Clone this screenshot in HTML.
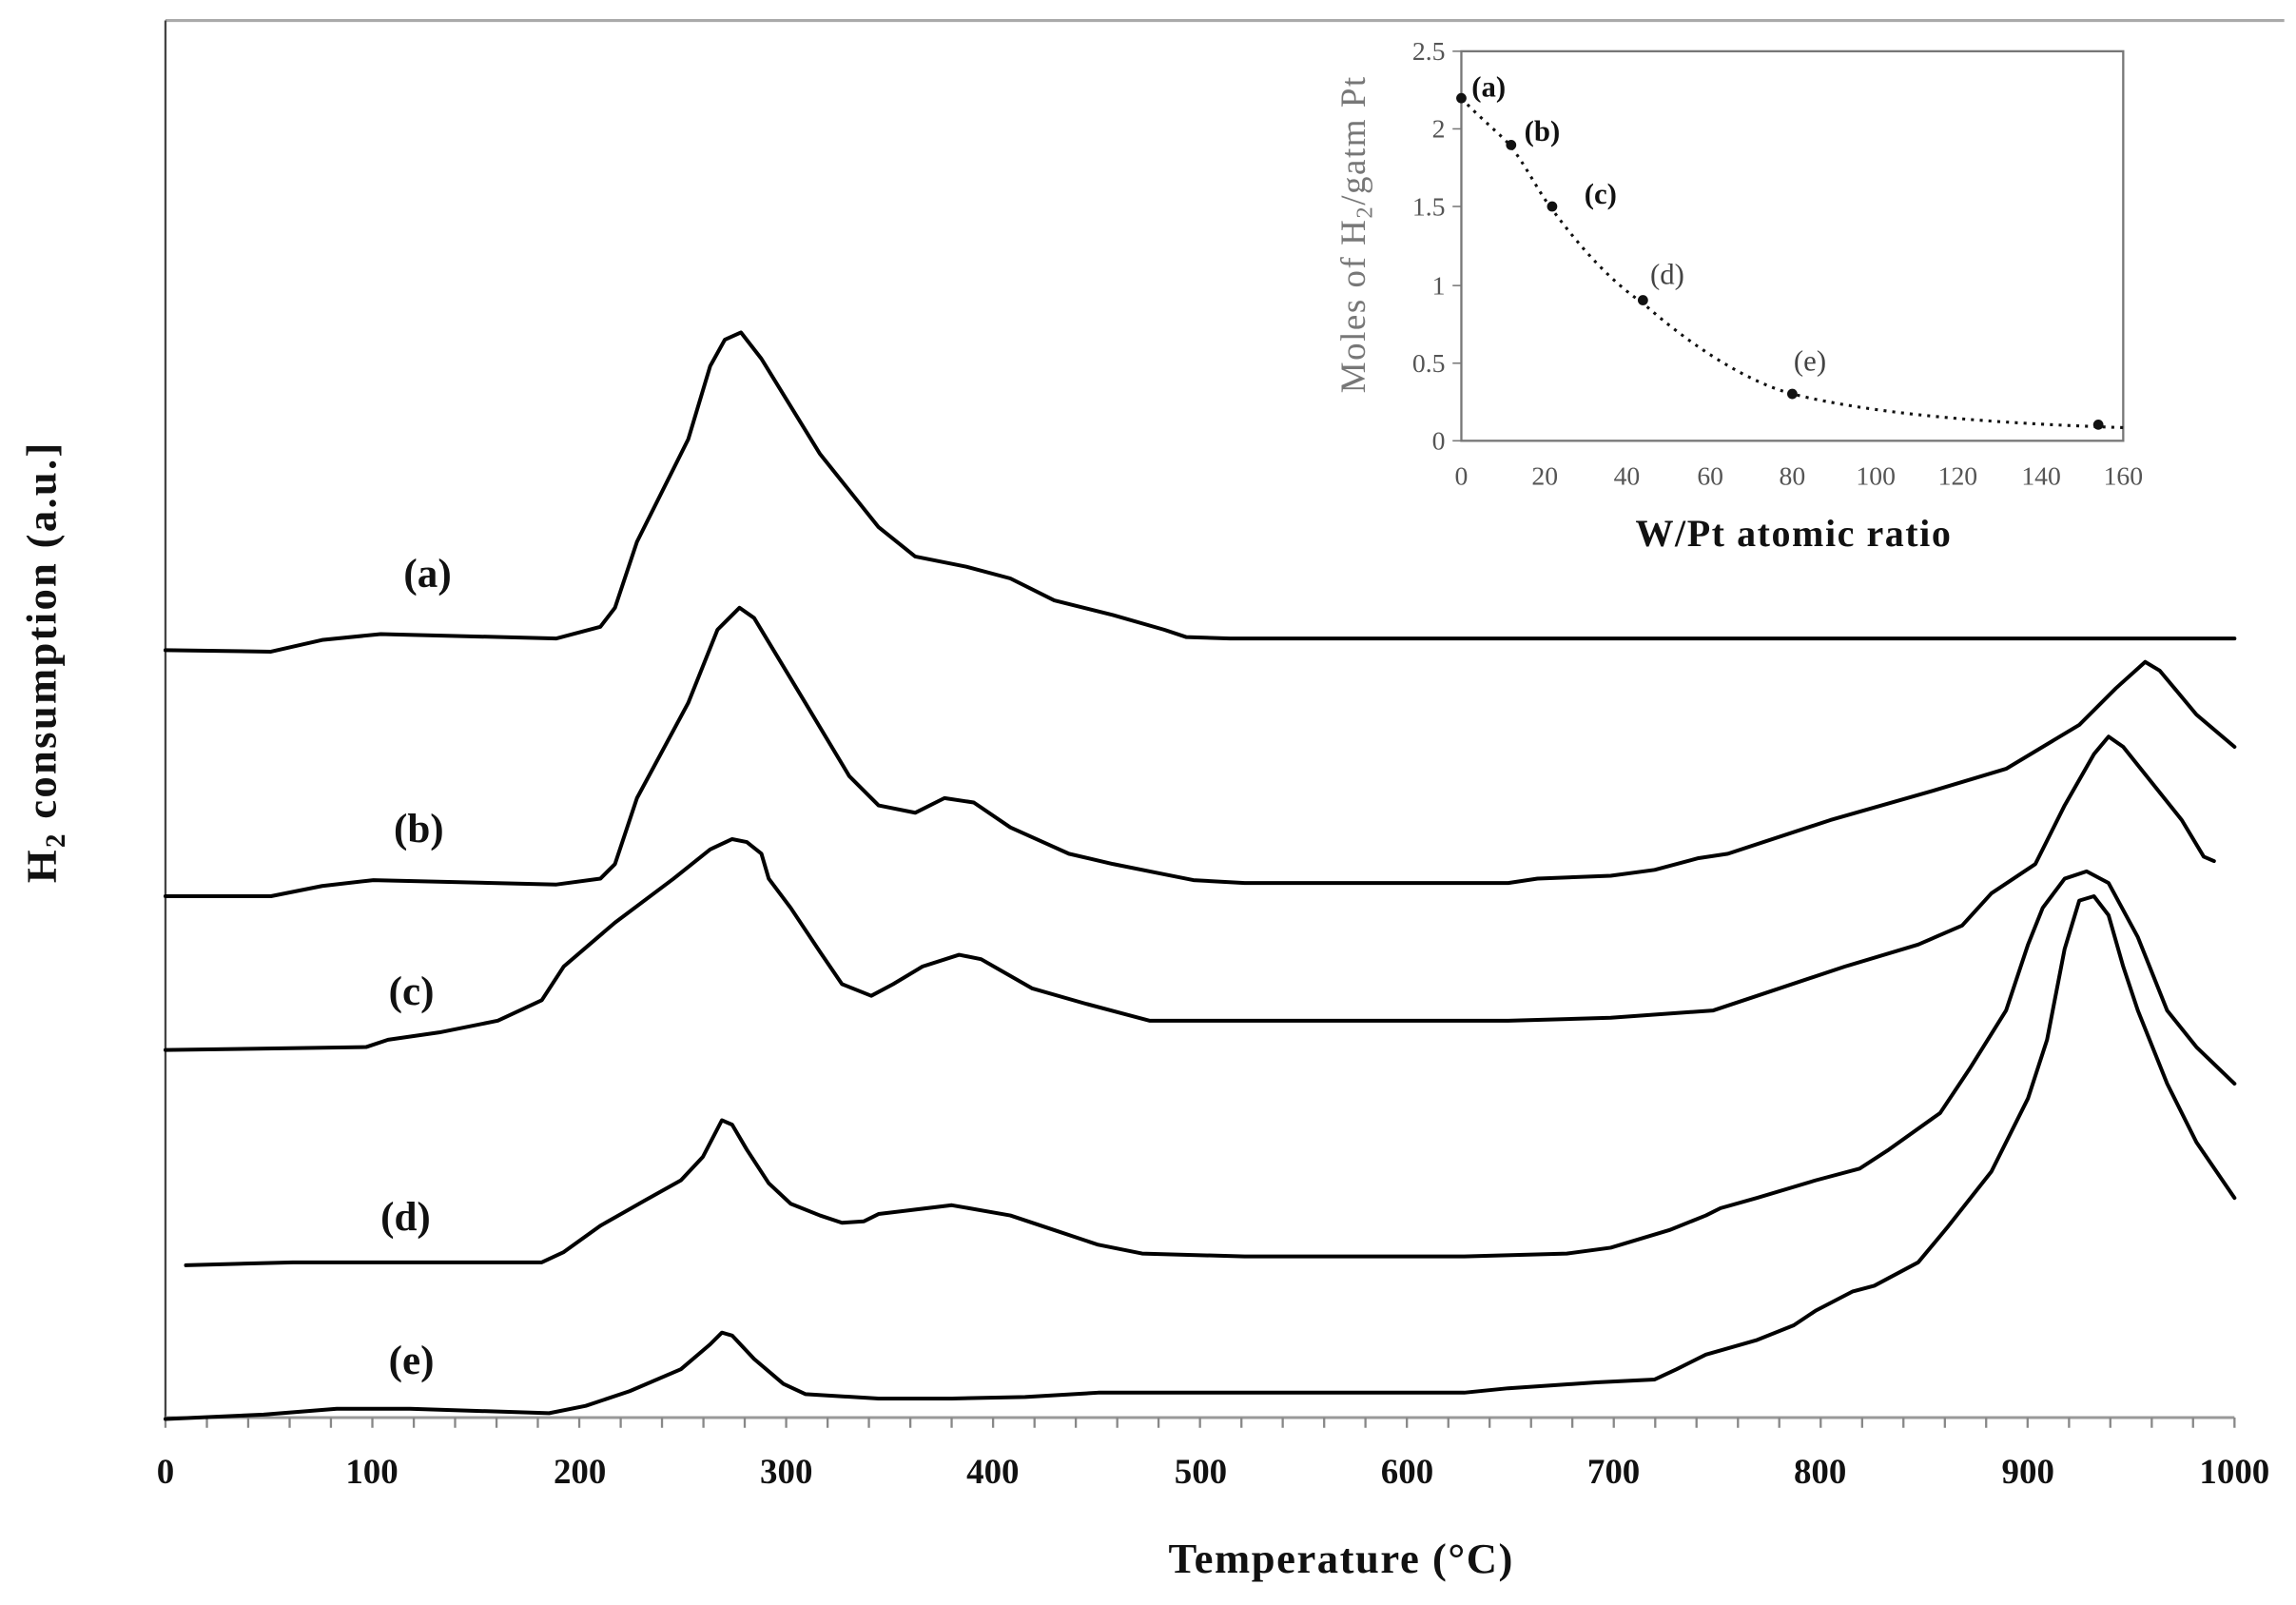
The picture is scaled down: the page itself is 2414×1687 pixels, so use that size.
<!DOCTYPE html>
<html><head><meta charset="utf-8"><style>
html,body{margin:0;padding:0;background:#fff;}
svg{display:block;}
text{font-family:"Liberation Serif",serif;}
</style></head><body>
<svg width="2414" height="1687" viewBox="0 0 1568 1096" preserveAspectRatio="none" xmlns="http://www.w3.org/2000/svg">
<rect width="1568" height="1096" fill="#fff"/>
<line x1="113" y1="14" x2="1560" y2="14" stroke="#aaa" stroke-width="2"/>
<line x1="113" y1="14" x2="113" y2="968" stroke="#444" stroke-width="1.5"/>
<line x1="113" y1="968" x2="1526" y2="968" stroke="#999" stroke-width="2"/>
<g stroke="#888" stroke-width="1.5">
<line x1="113.0" y1="968" x2="113.0" y2="975"/><line x1="141.3" y1="968" x2="141.3" y2="975"/><line x1="169.5" y1="968" x2="169.5" y2="975"/><line x1="197.8" y1="968" x2="197.8" y2="975"/><line x1="226.0" y1="968" x2="226.0" y2="975"/><line x1="254.3" y1="968" x2="254.3" y2="975"/><line x1="282.6" y1="968" x2="282.6" y2="975"/><line x1="310.8" y1="968" x2="310.8" y2="975"/><line x1="339.1" y1="968" x2="339.1" y2="975"/><line x1="367.3" y1="968" x2="367.3" y2="975"/><line x1="395.6" y1="968" x2="395.6" y2="975"/><line x1="423.9" y1="968" x2="423.9" y2="975"/><line x1="452.1" y1="968" x2="452.1" y2="975"/><line x1="480.4" y1="968" x2="480.4" y2="975"/><line x1="508.6" y1="968" x2="508.6" y2="975"/><line x1="536.9" y1="968" x2="536.9" y2="975"/><line x1="565.2" y1="968" x2="565.2" y2="975"/><line x1="593.4" y1="968" x2="593.4" y2="975"/><line x1="621.7" y1="968" x2="621.7" y2="975"/><line x1="649.9" y1="968" x2="649.9" y2="975"/><line x1="678.2" y1="968" x2="678.2" y2="975"/><line x1="706.5" y1="968" x2="706.5" y2="975"/><line x1="734.7" y1="968" x2="734.7" y2="975"/><line x1="763.0" y1="968" x2="763.0" y2="975"/><line x1="791.2" y1="968" x2="791.2" y2="975"/><line x1="819.5" y1="968" x2="819.5" y2="975"/><line x1="847.8" y1="968" x2="847.8" y2="975"/><line x1="876.0" y1="968" x2="876.0" y2="975"/><line x1="904.3" y1="968" x2="904.3" y2="975"/><line x1="932.5" y1="968" x2="932.5" y2="975"/><line x1="960.8" y1="968" x2="960.8" y2="975"/><line x1="989.1" y1="968" x2="989.1" y2="975"/><line x1="1017.3" y1="968" x2="1017.3" y2="975"/><line x1="1045.6" y1="968" x2="1045.6" y2="975"/><line x1="1073.8" y1="968" x2="1073.8" y2="975"/><line x1="1102.1" y1="968" x2="1102.1" y2="975"/><line x1="1130.4" y1="968" x2="1130.4" y2="975"/><line x1="1158.6" y1="968" x2="1158.6" y2="975"/><line x1="1186.9" y1="968" x2="1186.9" y2="975"/><line x1="1215.1" y1="968" x2="1215.1" y2="975"/><line x1="1243.4" y1="968" x2="1243.4" y2="975"/><line x1="1271.7" y1="968" x2="1271.7" y2="975"/><line x1="1299.9" y1="968" x2="1299.9" y2="975"/><line x1="1328.2" y1="968" x2="1328.2" y2="975"/><line x1="1356.4" y1="968" x2="1356.4" y2="975"/><line x1="1384.7" y1="968" x2="1384.7" y2="975"/><line x1="1413.0" y1="968" x2="1413.0" y2="975"/><line x1="1441.2" y1="968" x2="1441.2" y2="975"/><line x1="1469.5" y1="968" x2="1469.5" y2="975"/><line x1="1497.7" y1="968" x2="1497.7" y2="975"/><line x1="1526.0" y1="968" x2="1526.0" y2="975"/>
</g>
<g font-size="24" font-weight="bold" text-anchor="middle" fill="#111">
<text x="113" y="1013">0</text><text x="254" y="1013">100</text><text x="396" y="1013">200</text><text x="537" y="1013">300</text><text x="678" y="1013">400</text><text x="820" y="1013">500</text><text x="961" y="1013">600</text><text x="1102" y="1013">700</text><text x="1243" y="1013">800</text><text x="1385" y="1013">900</text><text x="1526" y="1013">1000</text>
<text x="916" y="1074" font-size="29" letter-spacing="1">Temperature (°C)</text>
<text transform="translate(38,452) rotate(-90)" font-size="29" letter-spacing="1.5">H<tspan font-size="19" dy="6">2</tspan><tspan dy="-6"> consumption (a.u.]</tspan></text>
</g>
<g font-size="28" font-weight="bold" text-anchor="middle" fill="#111">
<text x="292" y="401">(a)</text><text x="286" y="575">(b)</text><text x="281" y="686">(c)</text><text x="277" y="840">(d)</text><text x="281" y="938">(e)</text>
</g>
<g fill="none" stroke="#000" stroke-width="2.6" stroke-linejoin="round" stroke-linecap="round">
<polyline points="113,444 185,445 220,437 260,433 380,436 410,428 420,415 435,370 470,300 485,250 495,232 506,227 520,245 560,310 600,360 625,380 660,387 690,395 720,410 760,420 795,430 810,435 840,436 1526,436"/>
<polyline points="113,612 185,612 220,605 255,601 380,604 410,600 420,590 435,545 470,480 490,430 505,415 515,422 550,480 580,530 600,550 625,555 645,545 665,548 690,565 730,583 760,590 795,597 815,601 850,603 1030,603 1050,600 1100,598 1130,594 1160,586 1180,583 1250,560 1320,540 1370,525 1420,495 1445,470 1465,452 1475,458 1500,488 1526,510"/>
<polyline points="113,717 250,715 265,710 300,705 340,697 370,683 385,660 420,630 460,600 485,580 500,573 510,575 520,583 525,600 540,620 560,650 575,672 595,680 610,672 630,660 655,652 670,655 705,675 740,685 770,693 785,697 800,697 1030,697 1100,695 1170,690 1200,680 1260,660 1310,645 1340,632 1360,610 1375,600 1390,590 1410,550 1430,515 1440,503 1450,510 1470,535 1490,560 1505,585 1512,588"/>
<polyline points="127,864 200,862 370,862 385,855 410,837 440,820 465,806 480,790 493,765 500,768 510,785 525,808 540,822 560,830 575,835 590,834 600,829 625,826 650,823 690,830 720,840 750,850 780,856 850,858 1000,858 1070,856 1100,852 1140,840 1165,830 1175,825 1200,818 1240,806 1270,798 1290,785 1325,760 1345,730 1370,690 1385,645 1395,620 1410,600 1425,595 1440,603 1460,640 1480,690 1500,715 1526,740"/>
<polyline points="113,969 180,966 230,962 280,962 375,965 400,960 430,950 465,935 485,918 493,910 500,912 515,928 535,945 550,952 600,955 650,955 700,954 750,951 1000,951 1030,948 1060,946 1090,944 1130,942 1145,935 1165,925 1200,915 1225,905 1240,895 1265,882 1280,878 1310,862 1330,838 1360,800 1385,750 1398,710 1410,648 1420,615 1430,612 1440,625 1450,660 1460,690 1480,740 1500,780 1526,818"/>
</g>
<!-- inset -->
<rect x="998" y="35" width="452" height="266" fill="none" stroke="#777" stroke-width="1.5"/>
<g stroke="#777" stroke-width="1">
<line x1="992" y1="35" x2="998" y2="35"/><line x1="992" y1="88" x2="998" y2="88"/><line x1="992" y1="141" x2="998" y2="141"/><line x1="992" y1="195" x2="998" y2="195"/><line x1="992" y1="248" x2="998" y2="248"/><line x1="992" y1="301" x2="998" y2="301"/>
</g>
<g font-size="18" fill="#555" text-anchor="end">
<text x="987" y="41">2.5</text><text x="987" y="94">2</text><text x="987" y="147">1.5</text><text x="987" y="201">1</text><text x="987" y="254">0.5</text><text x="987" y="307">0</text>
</g>
<g font-size="18" fill="#555" text-anchor="middle">
<text x="998" y="331">0</text><text x="1055" y="331">20</text><text x="1111" y="331">40</text><text x="1168" y="331">60</text><text x="1224" y="331">80</text><text x="1281" y="331">100</text><text x="1337" y="331">120</text><text x="1394" y="331">140</text><text x="1450" y="331">160</text>
</g>
<text x="1225" y="373" font-size="26" font-weight="bold" text-anchor="middle" fill="#111" letter-spacing="1">W/Pt atomic ratio</text>
<text transform="translate(932,160) rotate(-90)" font-size="24" text-anchor="middle" fill="#777" letter-spacing="1">Moles of H<tspan font-size="16" dy="5">2</tspan><tspan dy="-5">/gatm Pt</tspan></text>
<path d="M998,67 C1010,80 1025,92 1032,100 C1045,118 1050,130 1060,143 C1080,170 1100,192 1122,207 C1150,232 1190,260 1224,269 C1280,283 1360,289 1450,292" fill="none" stroke="#111" stroke-width="2" stroke-dasharray="2,4"/>
<g fill="#111">
<circle cx="998" cy="67" r="3.5"/><circle cx="1032" cy="99" r="3.5"/><circle cx="1060" cy="141" r="3.5"/><circle cx="1122" cy="205" r="3.5"/><circle cx="1224" cy="269" r="3.5"/><circle cx="1433" cy="290" r="3.5"/>
</g>
<g font-size="20" fill="#111">
<text x="1005" y="66" font-weight="bold">(a)</text><text x="1041" y="96" font-weight="bold">(b)</text><text x="1082" y="139" font-weight="bold">(c)</text><text x="1127" y="194" fill="#444">(d)</text><text x="1225" y="253" fill="#444">(e)</text>
</g>
</svg>
</body></html>
